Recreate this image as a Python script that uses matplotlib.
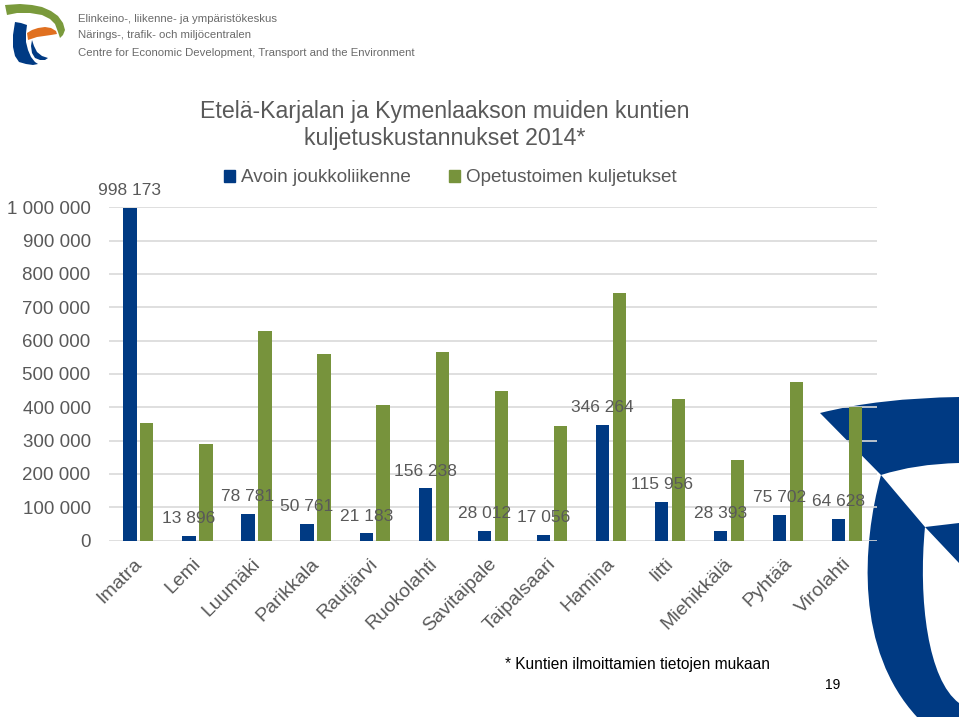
"""
plot.py: Etelä-Karjalan ja Kymenlaakson kuntien kuljetuskustannukset 2014
"""

import matplotlib
matplotlib.use("Agg")
import matplotlib.pyplot as plt
import numpy as np
from matplotlib.patches import Patch, PathPatch, Polygon
from matplotlib.path import Path
from matplotlib.transforms import ScaledTranslation
from matplotlib.ticker import FuncFormatter

plt.rcParams["font.family"] = ["Liberation Sans", "DejaVu Sans"]

# ── Data ─────────────────────────────────────────────────────────────────────
kunnat = ["Imatra", "Lemi", "Luumäki", "Parikkala", "Rautjärvi", "Ruokolahti",
          "Savitaipale", "Taipalsaari", "Hamina", "Iitti", "Miehikkälä",
          "Pyhtää", "Virolahti"]
joukkoliikenne = [998173, 13896, 78781, 50761, 21183, 156238,
                  28012, 17056, 346264, 115956, 28393, 75702, 64628]
opetustoimi = [352000, 290000, 628000, 560000, 406000, 567000,
               450000, 343000, 743000, 425000, 243000, 476000, 400000]
y_ticks = [0, 100000, 200000, 300000, 400000, 500000,
           600000, 700000, 800000, 900000, 1000000]

BLUE  = "#003a83"
GREEN = "#77933c"
GREY  = "#595959"
GRID  = "#d9d9d9"

W, H = 959, 717
fig = plt.figure(figsize=(W / 100, H / 100), dpi=100)


def px(x, y):
    # pixel coords (top-left origin) -> figure fraction
    return (x / W, 1 - y / H)


# ── Slide decorations ────────────────────────────────────────────────────────
def add_path(verts, codes, color):
    p = Path([px(*v) for v in verts], codes)
    fig.add_artist(PathPatch(p, transform=fig.transFigure, facecolor=color,
                             edgecolor="none", zorder=-2))


def add_poly(pts, color):
    fig.add_artist(Polygon([px(*p) for p in pts], closed=True,
                           transform=fig.transFigure, facecolor=color,
                           edgecolor="none", zorder=-2))

M, L, C3, C4, CL = Path.MOVETO, Path.LINETO, Path.CURVE3, Path.CURVE4, Path.CLOSEPOLY

# big blue swoosh, bottom right
add_path([(820, 413), (880, 398), (959, 397), (959, 463),
          (915, 464), (881, 475), (820, 413)],
         [M, C3, C3, L, C3, C3, CL], BLUE)
add_path([(881, 475), (862, 545), (855, 650), (917, 717), (959, 717),
          (959, 703), (928, 680), (918, 600), (925, 527), (881, 475)],
         [M, C4, C4, C4, L, L, C4, C4, C4, CL], BLUE)
add_path([(925, 527), (959, 523), (959, 563), (925, 527)],
         [M, L, L, CL], BLUE)

# logo, top left
add_poly([(5, 5), (20, 4), (32, 5), (42, 7), (51, 11), (58, 16), (63, 23),
          (65, 30), (63, 35), (60, 38), (58, 32), (55, 24), (50, 19),
          (42, 15), (30, 13), (17, 13), (7, 15)], "#7a9a3c")
add_poly([(27, 33), (32, 30), (38, 28), (45, 27), (51, 28), (56, 31),
          (57, 34), (51, 35), (44, 36), (37, 37), (31, 39), (28, 40)], "#e07020")
add_poly([(15, 22), (21, 23), (27, 25), (26, 33), (26, 42), (28, 50),
          (31, 57), (35, 62), (38, 64), (33, 65), (26, 64), (19, 62),
          (15, 56), (13, 47), (13, 35)], BLUE)
add_poly([(32, 40), (34, 46), (37, 52), (42, 56), (48, 58), (45, 60),
          (40, 60), (35, 58), (32, 53), (31, 46)], BLUE)

logo_lines = ["Elinkeino-, liikenne- ja ympäristökeskus",
              "Närings-, trafik- och miljöcentralen",
              "Centre for Economic Development, Transport and the Environment"]
for i, line in enumerate(logo_lines):
    fig.text(*px(78, 18.5 + i * 17), line, fontsize=8.2, color="#6a6a6a",
             ha="left", va="center")

# ── Chart ────────────────────────────────────────────────────────────────────
ax = fig.add_axes([108.8 / W, 1 - 540.5 / H, 768 / W, 333.3 / H])
ax.set_facecolor("none")

x = np.arange(len(kunnat))
bw, off = 0.225, 0.143
ax.bar(x - off, joukkoliikenne, bw, color=BLUE, zorder=3)
ax.bar(x + off, opetustoimi, bw, color=GREEN, zorder=3)

for xi, v in zip(x, joukkoliikenne):
    ax.annotate(f"{v:,}".replace(",", " "), (xi - off, v), xytext=(0, 12.5),
                textcoords="offset points", ha="center", va="center",
                fontsize=12.5, color=GREY, zorder=4, annotation_clip=False)

ax.set_xlim(-0.5, len(kunnat) - 0.5)
ax.set_ylim(0, 1000000)
ax.set_yticks(y_ticks)
ax.yaxis.set_major_formatter(FuncFormatter(lambda v, _: f"{int(v):,}".replace(",", " ")))
ax.tick_params(axis="y", length=0, pad=13, labelsize=13.5, labelcolor=GREY)
ax.grid(axis="y", color=GRID, linewidth=1.2, zorder=0)
ax.set_axisbelow(True)
for s in ax.spines.values():
    s.set_visible(False)

ax.set_xticks(x)
ax.set_xticklabels(kunnat, rotation=45, ha="right", va="center",
                   rotation_mode="anchor", fontsize=14, color=GREY)
ax.tick_params(axis="x", length=0, pad=15)
shift = ScaledTranslation(1 / 100, 0, fig.dpi_scale_trans)
for lbl in ax.get_xticklabels():
    lbl.set_transform(lbl.get_transform() + shift)

# title & legend
fig.text(*px(445, 125), "Etelä-Karjalan ja Kymenlaakson muiden kuntien\n"
         "kuljetuskustannukset 2014*", fontsize=16.7, color=GREY,
         ha="center", va="center", linespacing=1.17)

handles = [Patch(color=BLUE, label="Avoin joukkoliikenne"),
           Patch(color=GREEN, label="Opetustoimen kuljetukset")]
fig.legend(handles=handles, loc="center", bbox_to_anchor=px(450, 178), ncol=2,
           frameon=False, fontsize=13.6, labelcolor=GREY, handlelength=0.6,
           handleheight=0.6, handletextpad=0.3, columnspacing=2.0)

# footnote & page number
fig.text(*px(505, 665), "* Kuntien ilmoittamien tietojen mukaan",
         fontsize=11.2, color="black", ha="left", va="center")
fig.text(*px(833, 685), "19", fontsize=10, color="black", ha="center", va="center")

plt.savefig("out.png", dpi=100)
